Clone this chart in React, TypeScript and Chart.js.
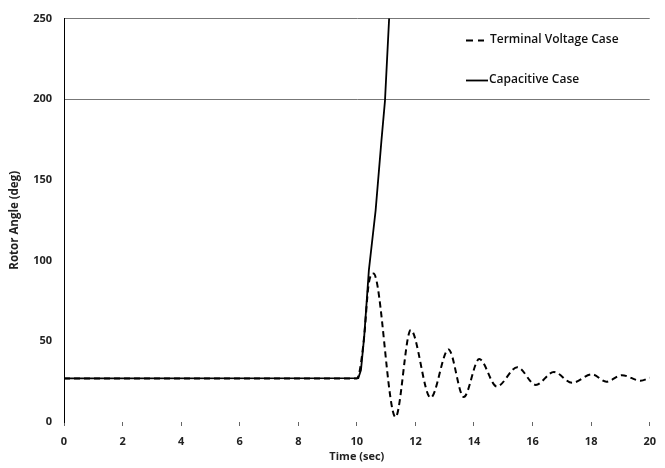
import { useEffect, useRef } from "react";
import { Chart, registerables } from "chart.js";

Chart.register(...registerables);

// Terminal Voltage Case (dashed)
const tvTime = [0, 10, 10.1, 10.25, 10.4, 10.57, 11.32, 11.84, 12.52, 13.13, 13.65, 14.18, 14.78, 15.48, 16.11, 16.73, 17.35, 18.03, 18.52, 19.05, 19.69, 20];
const tvAngle = [27, 27, 32, 53, 85, 92, 3, 57, 15, 45, 15.5, 39, 22, 34, 23, 31, 24.3, 29.5, 25, 29, 25.6, 27.5];

// Capacitive Case (solid)
const capTime = [0, 10.05, 10.14, 10.25, 10.41, 10.64, 10.84, 10.96, 11.11];
const capAngle = [27, 27.2, 32.2, 52.8, 94, 131, 174.5, 199, 253];

const xTickValues = [0, 2, 4, 6, 8, 10, 12, 14, 16, 18, 20];
const yTickValues = [0, 50, 100, 150, 200, 250];
const gridAt = [200, 250];

const seriesLabels = ["Terminal Voltage Case", "Capacitive Case"];

export default function App() {
  const ref = useRef<HTMLCanvasElement>(null);

  useEffect(() => {
    document.body.style.margin = "0";
    const FONT = "'Open Sans', 'DejaVu Sans', sans-serif";
    Chart.defaults.font.family = FONT;

    const legendPlugin = {
      id: "insideLegend",
      afterDraw(chart: any) {
        const ctx = chart.ctx as CanvasRenderingContext2D;
        ctx.save();
        ctx.strokeStyle = "#000";
        ctx.fillStyle = "#111";
        ctx.font = `600 12px ${FONT}`;
        ctx.textBaseline = "middle";
        ctx.textAlign = "left";
        // dashed
        ctx.lineWidth = 2;
        ctx.setLineDash([7, 5]);
        ctx.beginPath();
        ctx.moveTo(466, 40.5);
        ctx.lineTo(484, 40.5);
        ctx.stroke();
        ctx.fillText(chart.data.datasets[0].label, 490, 40);
        // solid
        ctx.setLineDash([]);
        ctx.lineWidth = 1.8;
        ctx.beginPath();
        ctx.moveTo(466, 80.5);
        ctx.lineTo(488, 80.5);
        ctx.stroke();
        ctx.fillText(chart.data.datasets[1].label, 489, 80);
        ctx.restore();
      },
    };

    const chart = new Chart(ref.current!, {
      type: "line",
      data: {
        datasets: [
          {
            label: seriesLabels[0],
            data: tvTime.map((t, i) => ({ x: t, y: tvAngle[i] })),
            borderColor: "#000",
            borderWidth: 2,
            borderDash: [6, 4],
            pointRadius: 0,
            cubicInterpolationMode: "monotone",
            fill: false,
          },
          {
            label: seriesLabels[1],
            data: capTime.map((t, i) => ({ x: t, y: capAngle[i] })),
            borderColor: "#000",
            borderWidth: 1.8,
            pointRadius: 0,
            tension: 0,
            fill: false,
          },
        ],
      },
      options: {
        responsive: false,
        animation: false,
        layout: { padding: { top: 18, right: 11, left: 0, bottom: 0 } },
        plugins: {
          legend: { display: false },
          tooltip: { enabled: false },
        },
        scales: {
          x: {
            type: "linear",
            min: 0,
            max: 20,
            afterFit: (s: any) => {
              s.height = 46;
            },
            afterBuildTicks: (s: any) => {
              s.ticks = xTickValues.map((v) => ({ value: v }));
            },
            border: { display: false },
            grid: {
              drawOnChartArea: false,
              drawTicks: true,
              tickLength: 4,
              tickColor: "#666",
            },
            ticks: {
              padding: 9,
              color: "#222",
              font: { size: 11, weight: "bold" },
              maxRotation: 0,
            },
            title: {
              display: true,
              text: "Time (sec)",
              color: "#222",
              font: { size: 11, weight: "bold" },
              padding: { top: 0, bottom: 5 },
            },
          },
          y: {
            type: "linear",
            min: 0,
            max: 250,
            afterFit: (s: any) => {
              s.width = 64;
            },
            afterBuildTicks: (s: any) => {
              s.ticks = yTickValues.map((v) => ({ value: v }));
            },
            border: { display: true, color: "#000", width: 1 },
            grid: {
              drawTicks: false,
              color: (c: any) => (c.tick && gridAt.includes(c.tick.value) ? "#777" : "rgba(0,0,0,0)"),
              lineWidth: 1,
            },
            ticks: {
              padding: 12,
              color: "#222",
              font: { size: 11, weight: "bold" },
            },
            title: {
              display: true,
              text: "Rotor Angle (deg)",
              color: "#222",
              font: { size: 11.5, weight: "bold" },
              padding: { top: 8, bottom: 0 },
            },
          },
        },
      },
      plugins: [legendPlugin],
    });
    return () => chart.destroy();
  }, []);

  return (
    <div style={{ width: 665, height: 468, position: "relative", background: "#fff" }}>
      <canvas ref={ref} width={665} height={468} />
    </div>
  );
}
